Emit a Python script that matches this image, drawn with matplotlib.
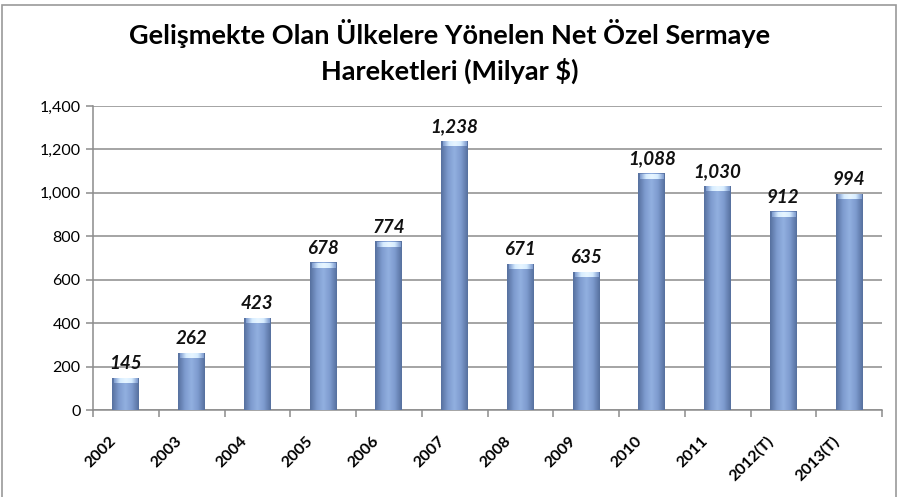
import matplotlib.pyplot as plt
import numpy as np
from matplotlib.patches import Rectangle
from matplotlib.colors import LinearSegmentedColormap
from matplotlib.transforms import ScaledTranslation

years = ['2002', '2003', '2004', '2005', '2006', '2007', '2008', '2009',
         '2010', '2011', '2012(T)', '2013(T)']
values = [145, 262, 423, 678, 774, 1238, 671, 635, 1088, 1030, 912, 994]
labels = ['145', '262', '423', '678', '774', '1,238', '671', '635',
          '1,088', '1,030', '912', '994']

plt.rcParams['font.family'] = ['Lato', 'DejaVu Sans']

fig = plt.figure(figsize=(9, 4.97), dpi=100)
ax = fig.add_axes([93 / 900, 1 - 410 / 497, 789 / 900, 304 / 497])

# figure frame
fig.patches.append(Rectangle((0.002, -0.01), 0.994, 1.0, transform=fig.transFigure,
                             fill=False, edgecolor='#9a9a9a', linewidth=1.2))

cmap = LinearSegmentedColormap.from_list(
    'bar', ['#56709e', '#7d9ace', '#92b0e0', '#7d9ace', '#56709e'])
grad = np.linspace(0, 1, 64).reshape(1, -1)
top_cmap = LinearSegmentedColormap.from_list(
    'top', ['#7d9ace', '#d6ecff', '#e8f6ff', '#d6ecff', '#7d9ace'])

x = np.arange(len(years))
w = 0.41
for xi, v, lab in zip(x, values, labels):
    ax.imshow(grad, cmap=cmap, aspect='auto', extent=(xi - w / 2, xi + w / 2, 0, v),
              zorder=3, interpolation='bicubic')
    cap = 22
    ax.imshow(grad, cmap=top_cmap, aspect='auto',
              extent=(xi - w / 2 + 0.03, xi + w / 2 - 0.03, v - cap, v),
              zorder=4, interpolation='bicubic')
    ax.text(xi, v + 28, lab, ha='center', va='bottom', fontsize=13.5,
            fontweight='bold', fontstyle='italic', color='#111111', zorder=5)

ax.set_xlim(-0.5, len(years) - 0.5)
ax.set_ylim(0, 1400)
ax.set_yticks(np.arange(0, 1401, 200))
ax.set_yticklabels([f'{t:,}' for t in range(0, 1401, 200)], fontsize=11.5)
ax.yaxis.grid(True, color='#8c8c8c', linewidth=1.1, zorder=0)
ax.set_axisbelow(True)

ax.set_xticks(x)
ax.set_xticks(np.arange(-0.5, len(years), 1), minor=True)
ax.tick_params(axis='x', which='major', length=0, pad=17)
ax.tick_params(axis='x', which='minor', length=5, color='#8c8c8c', width=1.1)
ax.tick_params(axis='y', length=5, color='#8c8c8c', width=1.1, pad=4)
ax.set_xticklabels(years, rotation=45, ha='right', rotation_mode='anchor',
                   fontsize=11.5, fontweight='bold')
shift = ScaledTranslation(-17 / 100, 0, fig.dpi_scale_trans)
for t in ax.get_xticklabels():
    t.set_transform(t.get_transform() + shift)

for s in ['top', 'right']:
    ax.spines[s].set_visible(False)
for s in ['left', 'bottom']:
    ax.spines[s].set_color('#8c8c8c')
    ax.spines[s].set_linewidth(1.1)

fig.text(0.5, 0.932, 'Gelişmekte Olan Ülkelere Yönelen Net Özel Sermaye',
         ha='center', va='center', fontsize=19.5, fontweight='bold')
fig.text(0.5, 0.858, 'Hareketleri (Milyar $)', ha='center', va='center',
         fontsize=19.5, fontweight='bold')

fig.savefig('out.png', dpi=100)
